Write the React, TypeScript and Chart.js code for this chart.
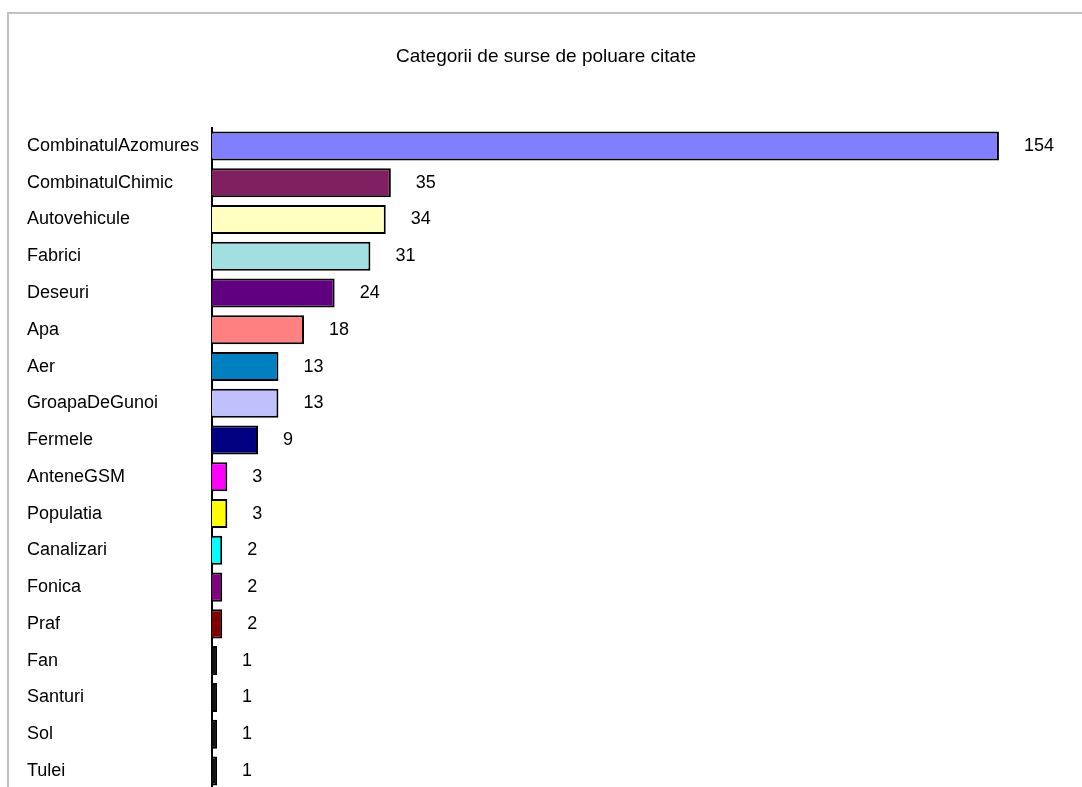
import React, { useEffect, useRef } from "react";
import { Chart, registerables } from "chart.js";

Chart.register(...registerables);

const chartTitle = "Categorii de surse de poluare citate";

const categories = [
  "CombinatulAzomures",
  "CombinatulChimic",
  "Autovehicule",
  "Fabrici",
  "Deseuri",
  "Apa",
  "Aer",
  "GroapaDeGunoi",
  "Fermele",
  "AnteneGSM",
  "Populatia",
  "Canalizari",
  "Fonica",
  "Praf",
  "Fan",
  "Santuri",
  "Sol",
  "Tulei",
];

const values = [154, 35, 34, 31, 24, 18, 13, 13, 9, 3, 3, 2, 2, 2, 1, 1, 1, 1];

const barColors = [
  "#8080FF",
  "#802060",
  "#FFFFC0",
  "#A0E0E0",
  "#600080",
  "#FF8080",
  "#0080C0",
  "#C0C0FF",
  "#000080",
  "#FF00FF",
  "#FFFF00",
  "#00FFFF",
  "#800080",
  "#800000",
  "#101010",
  "#101010",
  "#101010",
  "#101010",
];

const FONT = "'Liberation Sans', Arial, sans-serif";

const valueLabels = {
  id: "valueLabels",
  afterDatasetsDraw(chart: any) {
    const ctx = chart.ctx;
    const meta = chart.getDatasetMeta(0);
    ctx.save();
    ctx.font = `18px ${FONT}`;
    ctx.fillStyle = "#000";
    ctx.textAlign = "left";
    ctx.textBaseline = "middle";
    meta.data.forEach((bar: any, i: number) => {
      const v = chart.data.datasets[0].data[i];
      ctx.fillText(String(v), bar.x + 25, bar.y);
    });
    ctx.restore();
  },
};

const centeredTitle = {
  id: "centeredTitle",
  afterDraw(chart: any) {
    const ctx = chart.ctx;
    ctx.save();
    ctx.font = `19px ${FONT}`;
    ctx.fillStyle = "#000";
    ctx.textAlign = "center";
    ctx.textBaseline = "alphabetic";
    ctx.fillText(chartTitle, chart.width / 2, 48);
    ctx.restore();
  },
};

export default function App() {
  const canvasRef = useRef<HTMLCanvasElement | null>(null);

  useEffect(() => {
    if (!canvasRef.current) return;
    const chart = new Chart(canvasRef.current, {
      type: "bar",
      data: {
        labels: categories,
        datasets: [
          {
            data: values,
            backgroundColor: barColors,
            borderColor: "#000",
            borderWidth: 2,
            categoryPercentage: 1,
            barPercentage: 0.79,
          },
        ],
      },
      options: {
        indexAxis: "y",
        responsive: false,
        maintainAspectRatio: false,
        animation: false,
        layout: { padding: { left: 18, right: 53.4, top: 113.6, bottom: 14.7 } },
        plugins: {
          legend: { display: false },
          tooltip: { enabled: false },
          title: { display: false },
        },
        scales: {
          x: { display: false, min: 0, max: 160 },
          y: {
            grid: { display: false },
            border: { display: true, color: "#000", width: 2 },
            ticks: {
              crossAlign: "far",
              color: "#000",
              font: { family: FONT, size: 18 },
              padding: 0,
            },
            afterFit(scale: any) {
              scale.width = 185;
            },
          },
        },
      },
      plugins: [valueLabels, centeredTitle],
    });
    return () => chart.destroy();
  }, []);

  return (
    <div
      style={{
        position: "fixed",
        left: 0,
        top: 0,
        width: 1082,
        height: 787,
        overflow: "hidden",
        background: "#fff",
      }}
    >
      <div
        style={{
          position: "absolute",
          left: 7,
          top: 12,
          width: 1076,
          height: 800,
          border: "2px solid #c0c0c0",
          background: "#fff",
        }}
      >
        <canvas
          ref={canvasRef}
          width={1074}
          height={790}
          style={{ display: "block", width: 1074, height: 790 }}
        />
      </div>
    </div>
  );
}
